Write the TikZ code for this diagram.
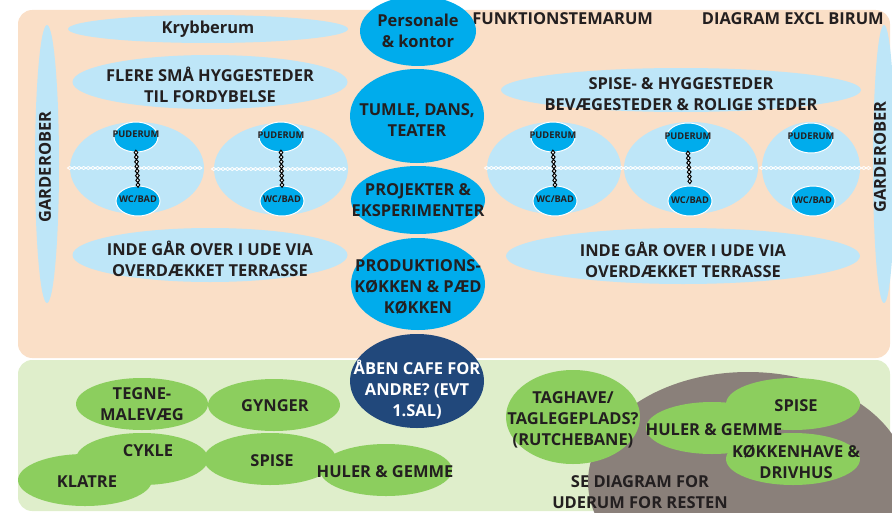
\documentclass[tikz,border=0pt]{standalone}
\usepackage{fontspec}
\setmainfont{Open Sans}
\usetikzlibrary{shapes.geometric,decorations.markings}

\definecolor{peach}{RGB}{250,223,199}
\definecolor{paleblue}{RGB}{190,230,248}
\definecolor{roomblue}{RGB}{0,172,236}
\definecolor{navy}{RGB}{33,72,123}
\definecolor{leaf}{RGB}{140,206,94}
\definecolor{paleleaf}{RGB}{223,238,203}
\definecolor{stone}{RGB}{138,128,122}
\definecolor{ink}{RGB}{35,31,32}

\begin{document}
\begin{tikzpicture}[x=0.025cm, y=-0.025cm,
  sz/.style 2 args={minimum width=#1*0.025cm, minimum height=#2*0.025cm},
  zone/.style={ellipse, fill=paleblue, inner sep=0pt},
  room/.style={ellipse, fill=roomblue, inner sep=0pt},
  cell/.style={room, draw=white, line width=0.7pt, sz={44}{30}},
  cafe/.style={ellipse, fill=navy, inner sep=0pt},
  ude/.style={ellipse, fill=leaf, inner sep=0pt},
  txt/.style={font=\bfseries\fontsize{11.7}{14.9}\selectfont, text=ink, align=center, inner sep=0pt},
  small/.style={font=\bfseries\fontsize{6.6}{7}\selectfont, text=ink, inner sep=0pt},
  linkw/.style={decoration={markings, mark=between positions 0 and 1 step 3.3pt with
      {\draw[white, line width=0.6pt] (-1.65pt,0) -- (0,1.1pt) -- (1.65pt,0) -- (0,-1.1pt) -- cycle;}}, decorate},
  linkb/.style={decoration={markings, mark=between positions 0 and 1 step 3.3pt with
      {\draw[black, fill=white, line width=0.7pt] (-1.65pt,0) -- (0,1.3pt) -- (1.65pt,0) -- (0,-1.3pt) -- cycle;}}, decorate}]

  \useasboundingbox (0,0) rectangle (892,512);

  % inde / ude
  \fill[peach, rounded corners=10pt] (18,10) rectangle (890,358);
  \fill[paleleaf, rounded corners=10pt] (18,360) rectangle (890,511);

  % venstre side
  \node[zone, sz={24}{278}] (gardL) at (47,164) {};
  \node[txt, rotate=90] (gardL-t) at (45,167) {GARDEROBER};
  \node[zone, sz={280}{28}] (kryb) at (208,29) {};
  \node[txt] (kryb-t) at (208,29) {Krybberum};
  \node[zone, sz={275}{54}] (flere) at (210,82) {};
  \node[txt] (flere-t) at (210,85) {FLERE SMÅ HYGGESTEDER\\TIL FORDYBELSE};

  \node[zone, sz={134}{92}] (cellL1) at (137,168) {};
  \node[zone, sz={134}{92}] (cellL2) at (281,169) {};
  \node[cell] (pudL1) at (136,137) {};
  \node[cell] (wcL1) at (138,201) {};
  \node[cell] (pudL2) at (281,137) {};
  \node[cell] (wcL2) at (282,201) {};
  \path[linkw] (cellL1.west) -- (cellL1.east);
  \path[linkw] (cellL2.west) -- (cellL2.east);
  \path[linkb] (pudL1.south) -- (wcL1.north);
  \path[linkb] (pudL2.south) -- (wcL2.north);
  \node[small] (pudL1-t) at (136,134) {PUDERUM};
  \node[small] (wcL1-t) at (138,199) {WC/BAD};
  \node[small] (pudL2-t) at (281,135) {PUDERUM};
  \node[small] (wcL2-t) at (282,199) {WC/BAD};

  \node[zone, sz={275}{54}] (indeL) at (210,255) {};
  \node[txt] (indeL-t) at (210,259) {INDE GÅR OVER I UDE VIA\\OVERDÆKKET TERRASSE};

  % hoejre side
  \node[txt, anchor=west] (titel) at (472,19) {FUNKTIONSTEMARUM};
  \node[txt, anchor=east] (diagram) at (884,19) {DIAGRAM EXCL BIRUM};
  \node[zone, sz={22}{278}] (gardR) at (884,164) {};
  \node[txt, rotate=90] (gardR-t) at (880,157) {GARDEROBER};
  \node[zone, sz={360}{44}] (spise) at (681,90) {};
  \node[txt] (spise-t) at (681,94) {SPISE- \& HYGGESTEDER\\BEVÆGESTEDER \& ROLIGE STEDER};

  \node[zone, sz={134}{92}] (cellR1) at (554,168) {};
  \node[zone, sz={134}{92}] (cellR2) at (691,168) {};
  \node[zone, sz={98}{92}] (cellR3) at (811,168) {};
  \node[cell] (pudR1) at (553,137) {};
  \node[cell] (wcR1) at (555,201) {};
  \node[cell] (pudR2) at (688,138) {};
  \node[cell] (wcR2) at (690,201) {};
  \node[cell] (pudR3) at (811,138) {};
  \node[cell] (wcR3) at (813,201) {};
  \path[linkw] (cellR1.west) -- ([xshift=-3]cellR2.east);
  \path[linkw] (cellR3.west) -- ([xshift=8]cellR3.east);
  \path[linkb] (pudR1.south) -- (wcR1.north);
  \path[linkb] (pudR2.south) -- (wcR2.north);
  \node[small] (pudR1-t) at (553,135) {PUDERUM};
  \node[small] (wcR1-t) at (555,199) {WC/BAD};
  \node[small] (pudR2-t) at (688,136) {PUDERUM};
  \node[small] (wcR2-t) at (690,200) {WC/BAD};
  \node[small] (pudR3-t) at (811,136) {PUDERUM};
  \node[small] (wcR3-t) at (813,200) {WC/BAD};

  \node[zone, sz={354}{56}] (indeR) at (683,256) {};
  \node[txt] (indeR-t) at (683,260) {INDE GÅR OVER I UDE VIA\\OVERDÆKKET TERRASSE};

  % midterkolonne
  \node[room, sz={116}{70}] (personale) at (418,31) {};
  \node[txt] (personale-t) at (418,31) {Personale\\\& kontor};
  \node[room, sz={134}{94}] (tumle) at (417,116) {};
  \node[txt] (tumle-t) at (417,120) {TUMLE, DANS,\\TEATER};
  \node[room, sz={134}{68}] (projekt) at (418,200) {};
  \node[txt] (projekt-t) at (418,200) {PROJEKTER \&\\EKSPERIMENTER};
  \node[room, sz={134}{92}] (kokken) at (418,284) {};
  \node[txt] (kokken-t) at (418,287) {PRODUKTIONS-\\KØKKEN \& PÆD\\KØKKEN};
  \node[cafe, sz={134}{94}] (cafe) at (417,381) {};
  \node[txt, text=white] (cafe-t) at (417,390) {ÅBEN CAFE FOR\\ANDRE? (EVT\\1.SAL)};

  % ude, venstre
  \node[ude, sz={132}{52}] (tegne) at (142,404) {};
  \node[txt] (tegne-t) at (142,404) {TEGNE-\\MALEVÆG};
  \node[ude, sz={132}{52}] (gynger) at (274,405) {};
  \node[txt] (gynger-t) at (275,406) {GYNGER};
  \node[ude, sz={132}{52}] (cykle) at (142,459) {};
  \node[txt] (cykle-t) at (148,451) {CYKLE};
  \node[ude, sz={134}{52}] (klatre) at (85,480) {};
  \node[txt] (klatre-t) at (87,482) {KLATRE};
  \node[ude, sz={132}{52}] (spiseL) at (270,459) {};
  \node[txt] (spiseL-t) at (272,461) {SPISE};
  \node[ude, sz={132}{52}] (hulerL) at (386,470) {};
  \node[txt] (hulerL-t) at (385,472) {HULER \& GEMME};

  % ude, hoejre
  \node[ellipse, fill=stone, inner sep=0pt, sz={320}{220}] (rest) at (748,482) {};
  \node[ude, sz={134}{94}] (taghave) at (573,417) {};
  \node[txt] (taghave-t) at (573,420) {TAGHAVE/\\TAGLEGEPLADS?\\(RUTCHEBANE)};
  \node[ude, sz={132}{52}] (hulerR) at (712,428) {};
  \node[ude, sz={134}{52}] (spiseR) at (793,404) {};
  \node[ude, sz={134}{52}] (kokkenhave) at (793,459) {};
  \node[txt] (spiseR-t) at (796,406) {SPISE};
  \node[txt] (hulerR-t) at (714,430) {HULER \& GEMME};
  \node[txt] (kokkenhave-t) at (796,462) {KØKKENHAVE \&\\DRIVHUS};
  \node[txt] (rest-t) at (640,492) {SE DIAGRAM FOR\\UDERUM FOR RESTEN};
\end{tikzpicture}
\end{document}
